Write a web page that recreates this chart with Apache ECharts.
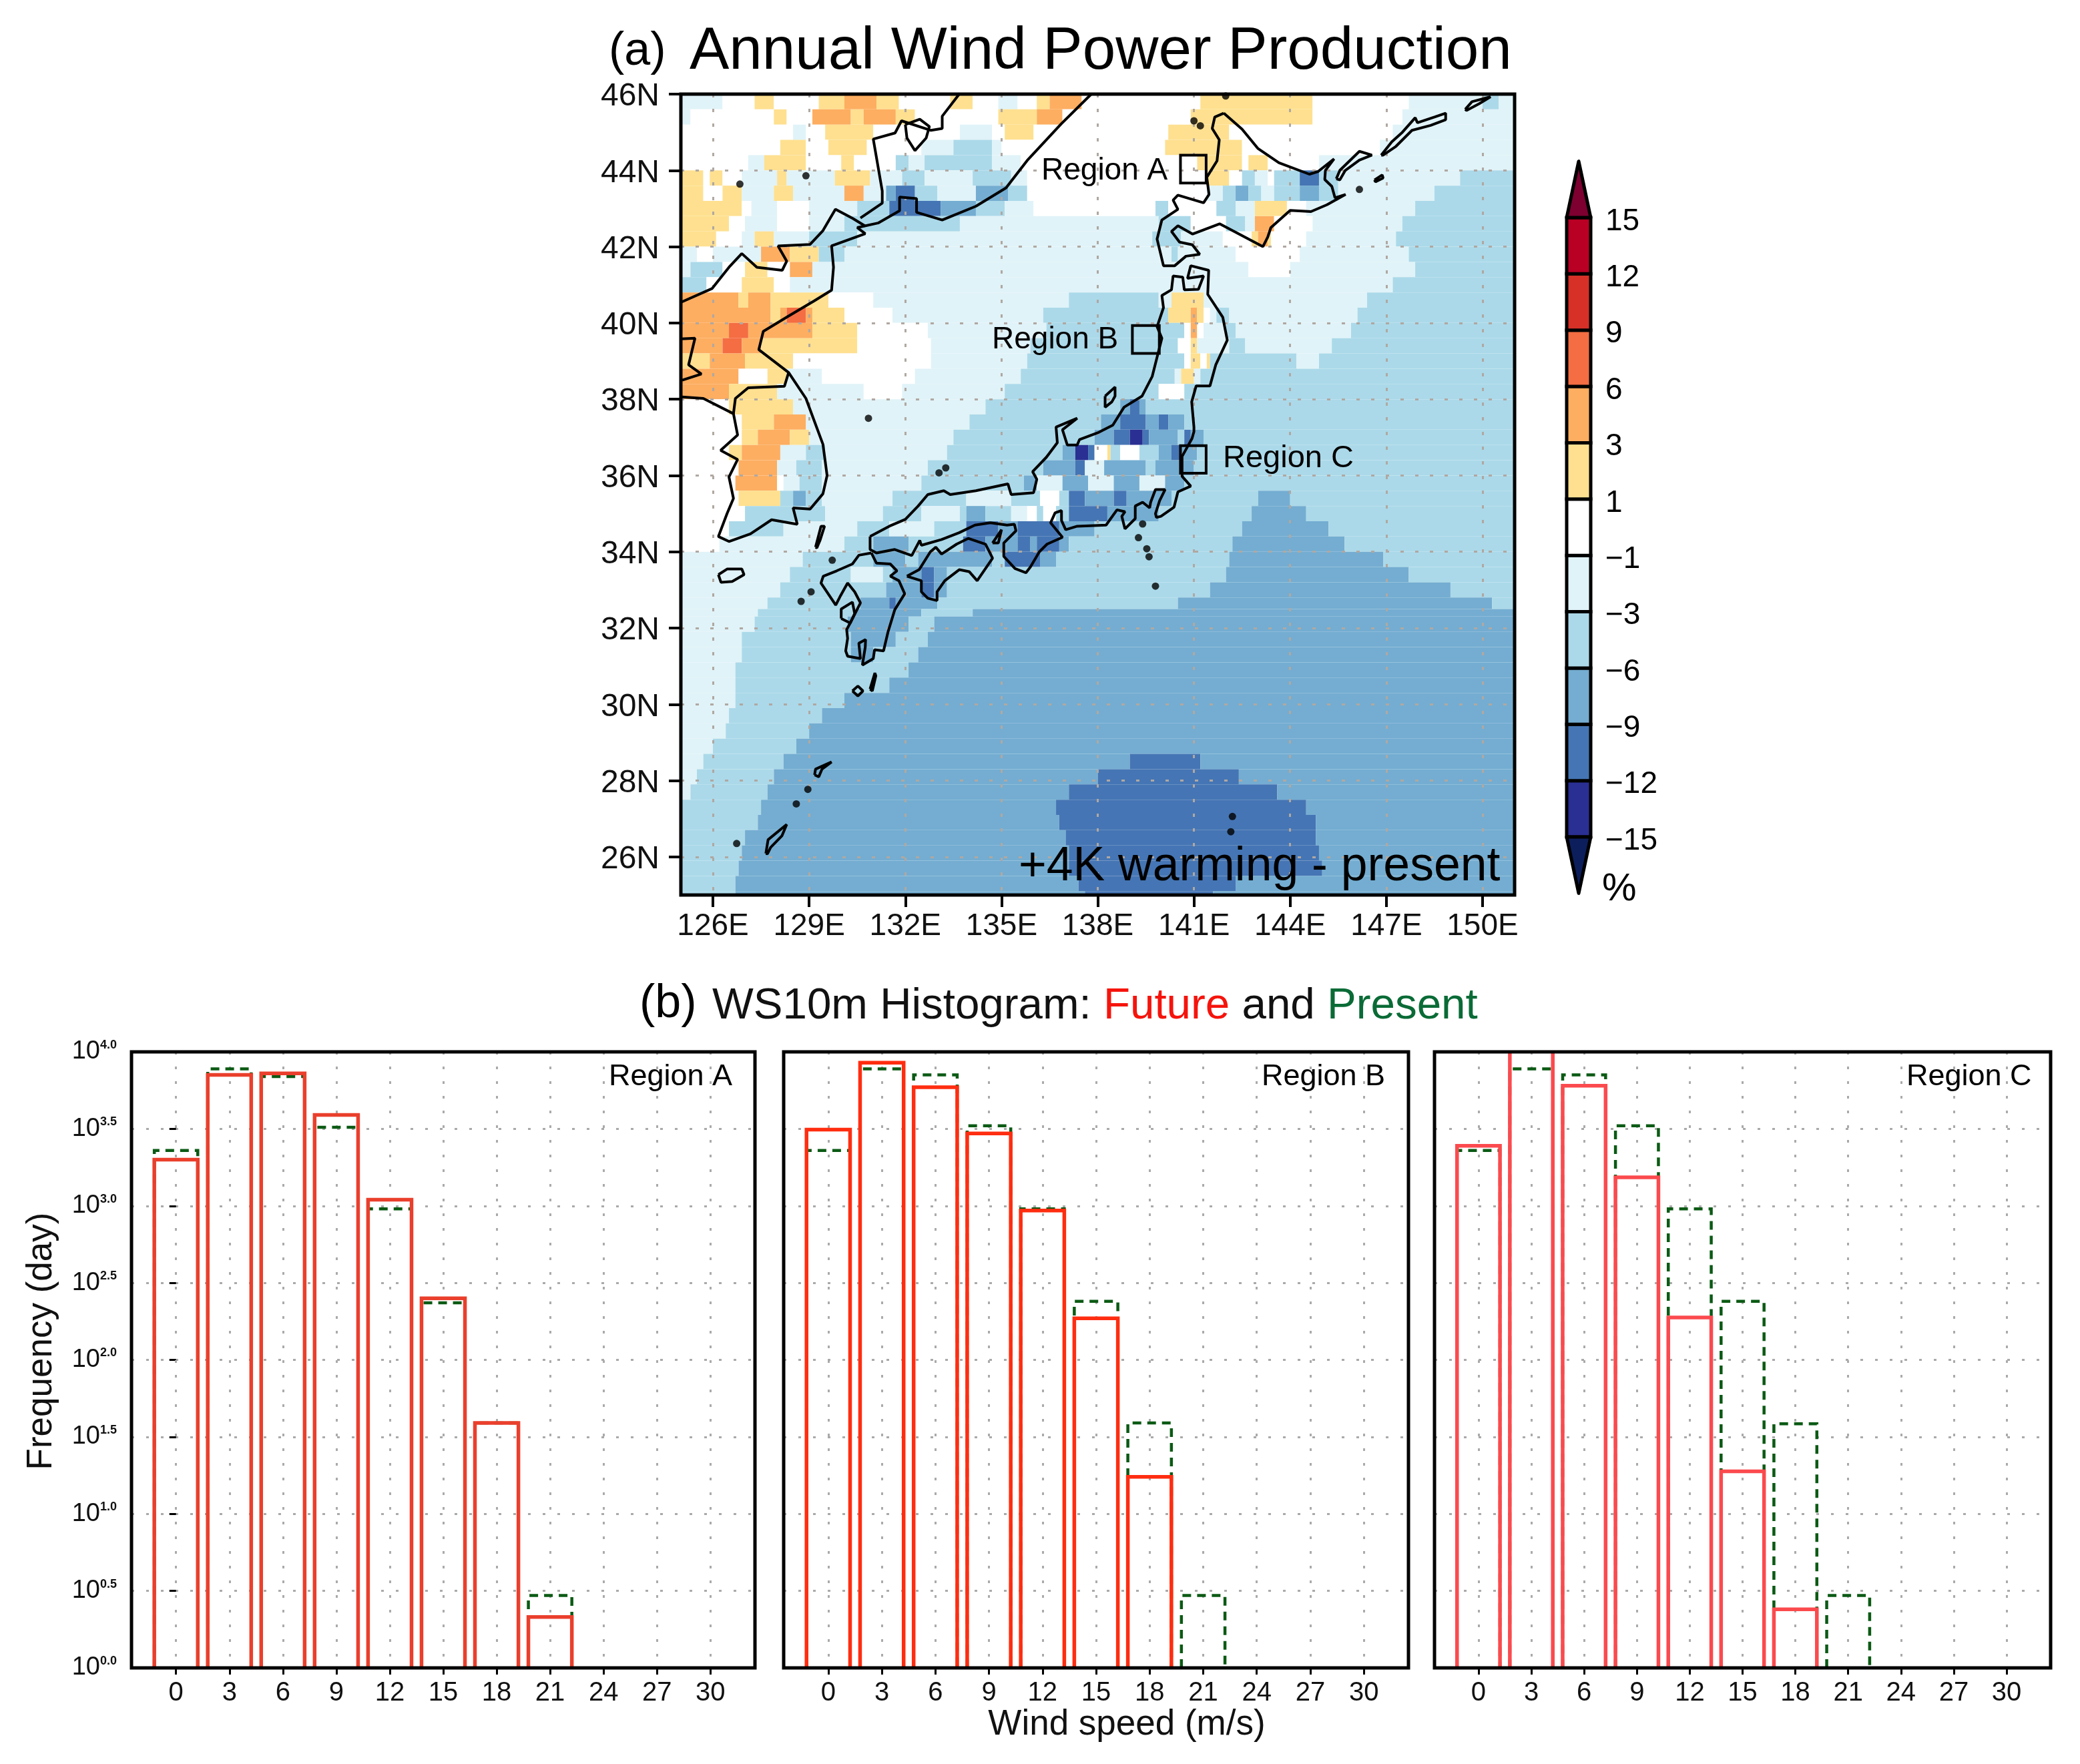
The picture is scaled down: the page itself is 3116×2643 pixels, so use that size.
<!DOCTYPE html>
<html><head><meta charset="utf-8">
<style>html,body{margin:0;padding:0;background:#fff}#c{width:3116px;height:2643px}</style>
<script src="https://cdn.jsdelivr.net/npm/echarts@6/dist/echarts.min.js"></script></head>
<body><div id="c"></div>
<script>
const FONT='"Liberation Sans",Arial,sans-serif';
const lonTicks=[126,129,132,135,138,141,144,147,150];
const latTicks=[26,28,30,32,34,36,38,40,42,44,46];
const binEdges=[-15,-12,-9,-6,-3,-1,1,3,6,9,12,15];
const binLabels=['\u221215','\u221212','\u22129','\u22126','\u22123','\u22121','1','3','6','9','12','15'];
const binColors=['#2a2f93','#4575b4','#74add1','#abd9e9','#e0f3f8','#ffffff','#fee090','#fdae61','#f46d43','#d73027','#b90024'];
const underColor='#0c1e5c', overColor='#7d0030';
// percent change represented by the class letters used in the rows below
const classValues={'.':0,a:2,b:4.5,c:7.5,d:-2,e:-4.5,f:-7.5,g:-10.5,h:-13.5};
// [top latitude, "class + eastern longitude of the run" ...]
const mapRows=[
[46,"d126.3 .127.3 a127.9 .129.3 a130.1 b131.1 a131.8 .133.4 a134.1 .134.9 d135.5 .136.1 a136.5 b137.5 .141.2 a144.7 .147.7 d150 e150.5 d151"],
[45.6,"d125.3 .127.9 a128.3 .129.1 b130.3 a130.7 b131.7 a132.3 .134.9 a136.1 b136.9 .140.9 a144.7 .147.5 d151"],
[45.2,".128.5 d128.9 .129.5 a131 .133.7 d134.7 .135.1 a136 .140.2 a142.1 .147.2 d151"],
[44.8,".128.1 a128.9 .129.6 a130.8 .132.5 d133.5 e134.7 d135 .140.1 a142.5 .146.8 d151"],
[44.4,".127.1 d127.6 a128.9 .130 a130.4 .131.7 e132.1 d132.6 e134.7 d135.6 .141.1 a142.5 .142.7 a143.3 .144.9 d151"],
[44,"a125.7 .125.9 a126.3 .126.9 d128 a128.3 d129.8 a130.9 d131.9 e132.6 d134.1 e135.3 d135.8 .141.4 a142.1 .142.5 e142.9 d143.3 .143.5 e144.3 g144.9 e145.5 d149.3 e151"],
[43.6,"a125.7 .126.3 a126.9 d127.9 a128.5 d130.1 b130.7 d131.4 f131.7 g132.3 e133 d134.2 f135.2 e135.8 .141.4 d141.9 e142.3 f142.7 e143.1 d143.5 e144.3 f144.9 e145.5 d148.5 e151"],
[43.2,"a126.9 .127.2 d128 .129 d130.5 e131.5 g133.1 f134.2 e135.1 d136 .139.8 e140.2 .141.7 e142.3 d142.9 a143.9 .144.5 d147.9 e151"],
[42.8,"a126.5 .127 d128 .129 d130.1 e133.7 d139.9 e140.9 .142 e142.6 d142.9 b143.5 .144.7 d147.5 e151"],
[42.4,"a126.1 .126.9 d127.3 a127.9 d129 e130.5 d139.7 e140.6 d141.9 .142.8 a143 b143.3 a143.4 .144.5 d147.3 e151"],
[42,"d125.5 .126 d127.5 b128.4 a129.3 e130.1 d140.3 e140.5 d142.3 .144.3 d147.7 e151"],
[41.6,"d125.3 e126.3 .127 a127.7 .128.4 b129.1 d142.7 .144 d147.9 e151"],
[41.2,"e125.8 .126.9 a127.9 .128.4 d147.2 e151"],
[40.8,"b126.8 a127.1 b127.8 a129.6 .131 d137.1 e139.9 d140.3 a141.3 d146.4 e151"],
[40.4,"b127.8 a128.1 b128.3 c128.9 b129.1 a130.1 .131.6 d136.3 e140.2 a140.9 b141.1 a141.3 .141.5 d141.7 e142.1 d146.1 e151"],
[40,"b126.5 c127.1 b129.1 a130.5 .132.7 d136.4 e140.7 .140.9 b141.1 .141.3 d142 e142.3 d145.9 e151"],
[39.6,"b126.3 c126.9 b127.5 a130.5 .132.8 d135.9 e140.5 .140.9 a141.1 d142.1 e142.6 d145.3 e151"],
[39.2,"a125.9 b127 a128.5 .132.8 d135.8 e140.7 .140.9 a141.2 .141.4 a141.5 e144.2 d144.9 e151"],
[38.8,"b126.8 .127.7 a128.3 d129.4 .132.3 d135.6 e140.4 d140.6 a141 d141.2 e151"],
[38.4,"b126.5 a128 d130.7 .131.9 d135.1 e139.9 .140.7 e151"],
[38,".126.5 a128.5 d134.5 e138.7 f139 g139.3 f139.5 e151"],
[37.6,".126.9 a127.9 b128.9 d134 e138.1 f138.7 g139.5 f139.9 g140.2 f140.7 e151"],
[37.2,".126.9 a127.4 b128.4 a129 d133.5 e137.9 f138.5 g139 h139.4 g139.6 f140.5 e140.7 g140.9 f141.3 e151"],
[36.8,".126.5 a126.9 b128.1 d128.9 e129.5 d133.3 e136.9 f137.3 h137.7 g137.9 .138.3 a138.4 e138.7 .139.3 e139.9 f140.3 g140.6 f141.1 e151"],
[36.4,".126.8 b128 d128.6 e129.4 d132.7 e136.3 f137.3 g137.6 d138.2 f139.5 e139.8 f141 e151"],
[36,".126.7 b128 .128.2 d128.7 e129.4 d132.5 e135.7 f136.1 d136.9 f137.7 d138.5 f139.3 d140.1 f140.7 e151"],
[35.6,".126.8 a128.1 e128.5 f128.9 e129.4 d131.6 e133.9 d135.3 e136.2 .136.8 e137.1 g137.6 f138.5 g138.9 f140.3 e143 f144 e151"],
[35.2,".127 e129.5 d131.3 e132.5 d133.7 e133.9 f134.5 e135.3 d135.8 .136.1 e136.3 .136.7 e137.1 g138.3 f139.9 e142.8 f144.5 e151"],
[34.8,".126.5 e128.2 d130.5 e131.5 d132.9 e133.9 g134.9 f135.5 g136.8 f137.9 e142.5 f145.2 e151"],
[34.4,".126.2 d130.1 e131 f132.1 e133.8 g134.5 f135.5 g135.9 f136.1 g136.8 f137.1 e142.2 f145.7 e151"],
[34,"d128.8 e131 f132 e132.4 f134.7 e135.1 g136.2 f136.7 e142.1 f146.9 e151"],
[33.6,"d128.4 e130.3 d131.3 e131.6 f132.5 g132.9 f133.3 e142 f147.7 e151"],
[33.2,"d128.1 e131.4 f132.5 g132.9 f133.3 e141.5 f149 e151"],
[32.8,"d127.7 e130.6 f131.5 g131.7 f133 e140.5 f150.3 e151"],
[32.5,"d127.4 e130.4 f132.5 e134.1 f151"],
[32.3,"d127.3 e130.2 f132.1 e132.9 f151"],
[31.9,"d126.9 e130.3 f131.7 e132.7 f151"],
[31.5,"d126.9 e130.3 f131 e132.4 f151"],
[31.1,"d126.7 e132.1 f151"],
[30.7,"d126.7 e131.5 f151"],
[30.3,"d126.7 e130.1 f151"],
[29.9,"d126.5 e129.4 f151"],
[29.5,"d126.4 e129 f151"],
[29.1,"d126 e128.6 f151"],
[28.7,"d125.7 e128.2 f139 g141.2 f151"],
[28.3,"d125.5 e127.9 f138 g142.4 f151"],
[27.9,"d125.3 e127.7 f137.1 g143.6 f151"],
[27.5,"e127.5 f136.7 g144.5 f151"],
[27.1,"e127.4 f136.8 g144.8 f151"],
[26.7,"e127 f137 g144.8 f151"],
[26.3,"e126.9 f137.1 g144.9 f151"],
[25.9,"e126.8 f137.1 g145 f151"],
[25.5,"e126.7 f137.4 g142.3 f151"],
[25.1,"e126.7 f137.6 g141.6 f151"],
[25,""]
];
// coast and border outlines, [lon,lat]
const honshu=[[130.9,34.4],[131.5,34.67],[132,34.85],[132.4,35.2],[132.7,35.5],[133.2,35.6],[133.4,35.5],[134.2,35.6],[135.2,35.78],[135.3,35.5],[136,35.55],[136.1,35.9],[135.97,36.1],[136.4,36.48],[136.74,36.86],[136.7,37.27],[137.36,37.5],[136.9,37.2],[137.05,36.8],[137.36,36.8],[137.43,36.94],[138,37.12],[138.47,37.32],[138.82,37.79],[139.38,38.08],[139.7,38.6],[140,39.6],[139.85,39.9],[140.05,40.4],[140,40.72],[140.3,40.87],[140.35,41.23],[140.65,41.2],[140.7,40.87],[141.14,40.88],[141.3,41.23],[140.8,41.17],[140.9,41.5],[141.46,41.38],[141.43,40.75],[141.9,40.15],[142.04,39.55],[141.68,38.9],[141.5,38.35],[141.07,38.35],[140.93,37.93],[141,37.27],[141,37.15],[140.94,36.97],[140.63,36.5],[140.63,35.98],[140.9,35.72],[140.5,35.57],[140.38,35.17],[139.97,34.93],[139.83,34.9],[139.8,35],[139.93,35.34],[140.1,35.63],[139.8,35.63],[139.65,35.3],[139.62,35.15],[139.4,35.3],[139.17,35.2],[139.17,34.87],[138.85,34.6],[138.75,34.93],[138.85,35.05],[138.6,35.1],[138.26,34.7],[137.36,34.67],[137,34.58],[136.87,34.82],[136.87,35.08],[136.67,35.02],[136.53,34.76],[136.9,34.38],[136.42,34.2],[136.18,34],[135.9,33.6],[135.76,33.45],[135.42,33.56],[135.07,33.88],[135.07,34.23],[135.45,34.55],[135.4,34.72],[135.17,34.7],[134.65,34.76],[134.17,34.7],[133.68,34.5],[133.13,34.32],[132.5,34.17],[132.45,34.3],[132.2,33.9],[131.67,34.06],[131.1,33.97],[130.9,34.06],[130.9,34.4]];
const hokkaido=[[141.93,45.5],[141.65,45.4],[141.57,45.1],[141.79,44.8],[141.72,44.25],[141.4,43.82],[141.47,43.37],[141.3,43.15],[140.5,43.35],[140.35,43.22],[140.5,42.98],[140,42.7],[139.85,42.2],[140.05,41.5],[140.4,41.5],[140.75,41.75],[141.18,41.8],[140.95,42.05],[140.55,42.12],[140.3,42.4],[140.5,42.55],[140.96,42.33],[141.8,42.6],[143.15,42],[143.3,42.25],[143.4,42.5],[144,42.95],[144.65,42.92],[145.15,43.1],[145.73,43.37],[145.4,43.28],[145.3,43.58],[145.08,43.76],[145.1,44],[145.37,44.3],[144.87,43.97],[144.6,43.9],[143.65,44.2],[143,44.57],[142.5,45.08],[141.93,45.5]];
const kyushu=[[130.94,33.97],[130.55,33.91],[130.35,33.68],[129.86,33.5],[129.44,33.36],[129.37,33.18],[129.83,32.6],[129.98,32.85],[130.2,33.18],[130.42,32.95],[130.6,32.66],[130.28,32.13],[130.17,31.96],[130.2,31.73],[130.14,31.4],[130.2,31.26],[130.6,31.2],[130.55,31.6],[130.76,31.7],[130.75,31.5],[130.66,31.03],[131,31.2],[131.04,31.43],[131.32,31.4],[131.46,31.9],[131.67,32.48],[131.98,32.9],[131.8,33.24],[131.53,33.36],[131.74,33.5],[131.53,33.68],[131.1,33.7],[130.94,33.97]];
const shikoku=[[132.05,33.36],[132.43,33.53],[132.78,34],[132.95,34.12],[133.13,33.94],[133.6,34.2],[133.96,34.35],[134.5,34.2],[134.62,34],[134.72,33.83],[134.24,33.24],[133.99,33.48],[133.68,33.53],[133.23,33.24],[132.99,32.95],[132.99,32.72],[132.7,32.78],[132.5,32.95],[132.5,33.24],[132.05,33.36]];
const koreaRussia=[[137.8,46],[136.86,45.22],[135.8,44.26],[135.14,43.54],[134.2,43.06],[133.15,42.7],[132.35,42.9],[132.35,43.26],[131.82,43.3],[131.82,42.94],[131.15,42.62],[130.5,42.5],[130.75,42.34],[129.7,42.02],[129.76,41.46],[129.7,40.86],[129.16,40.58],[128.36,40.18],[127.57,39.78],[127.43,39.3],[128.36,38.7],[128.9,38.02],[129.43,36.82],[129.56,36],[129.43,35.52],[129.03,35.12],[128.5,35.15],[128.63,34.72],[127.83,34.84],[127.17,34.47],[126.5,34.27],[126.17,34.4],[126.44,35],[126.64,35.4],[126.5,35.96],[126.77,36.42],[126.24,36.66],[126.77,37.06],[126.64,37.62],[125.7,38.02],[125.04,38.06]];
const chinaBorder=[[125,40.54],[125.97,40.9],[126.5,41.46],[126.9,41.82],[127.37,41.46],[128.16,41.38],[128.3,41.62],[128.03,42.02],[129.03,42.06],[129.43,42.42],[129.82,42.98],[130.36,42.74],[130.75,42.54]];
const russiaBorder=[[133.68,46],[133.15,45.42],[133.15,45.1],[132.8,45.05],[131.88,45.3],[131.68,44.98],[131,44.82],[131.28,43.46],[131.28,43.14],[130.6,42.75]];
const khanka=[[132,45.2],[132.45,45.34],[132.75,45.15],[132.65,44.85],[132.3,44.52],[132.05,44.85],[132,45.2]];
const dmz=[[128.36,38.7],[128.23,38.34],[127.1,38.3],[126.7,38.02],[126.64,37.62]];
const westKorea=[[125,39.58],[125.44,39.6],[125.24,38.9],[125.64,38.66],[125.04,38.5]];
const sado=[[138.23,38.08],[138.54,38.32],[138.54,38.08],[138.44,37.93],[138.23,37.79],[138.23,38.08]];
const awaji=[[134.72,34.23],[135,34.58],[134.9,34.23],[134.72,34.23]];
const tsushima=[[129.2,34.12],[129.37,34.67],[129.48,34.67],[129.34,34.3],[129.24,34.1],[129.2,34.12]];
const jeju=[[126.17,33.4],[126.45,33.55],[126.9,33.55],[126.97,33.4],[126.6,33.22],[126.25,33.2],[126.17,33.4]];
const amakusa=[[130,32.25],[130,32.5],[130.35,32.68],[130.42,32.38],[130.28,32.13],[130,32.25]];
const kunashiri=[[145.44,43.78],[145.55,44],[146.16,44.5],[146.55,44.4],[146.16,44.27],[145.72,44],[145.55,43.75],[145.44,43.78]];
const iturup=[[146.84,44.4],[147.17,44.75],[147.5,45],[147.9,45.38],[147.97,45.25],[148.5,45.4],[148.85,45.5],[148.85,45.33],[148.38,45.18],[147.8,45.05],[147.3,44.63],[146.9,44.4],[146.84,44.4]];
const urup=[[149.46,45.6],[149.67,45.8],[150.25,45.93],[149.9,45.75],[149.5,45.57],[149.46,45.6]];
const shikotan=[[146.63,43.75],[146.87,43.88],[146.9,43.8],[146.66,43.7],[146.63,43.75]];
const tanegashima=[[130.9,30.4],[131.05,30.82],[131.08,30.75],[130.97,30.35],[130.9,30.4]];
const yakushima=[[130.35,30.35],[130.52,30.48],[130.68,30.35],[130.52,30.22],[130.35,30.35]];
const amami=[[129.17,28.15],[129.2,28.3],[129.7,28.49],[129.4,28.3],[129.3,28.1],[129.17,28.15]];
const okinawa=[[127.65,26.09],[127.72,26.45],[128.3,26.85],[128.15,26.55],[127.8,26.25],[127.7,26.08],[127.65,26.09]];
const outlines=[honshu,hokkaido,kyushu,shikoku,koreaRussia,chinaBorder,russiaBorder,khanka,dmz,westKorea,sado,awaji,tsushima,jeju,amakusa,kunashiri,iturup,urup,shikotan,tanegashima,yakushima,amami,okinawa];
const islandDots=[[130.85,37.5],[133.05,36.07],[133.26,36.2],[129.72,33.78],[129.06,32.95],[128.75,32.7],[128.96,27.77],[128.6,27.39],[126.74,26.35],[139.4,34.73],[139.27,34.37],[139.53,34.08],[139.6,33.87],[139.8,33.1],[142.2,27.06],[142.15,26.66],[146.16,43.5],[141,45.3],[141.2,45.17],[128.9,43.86],[126.84,43.64],[141.99,45.95]];
const regionBoxes=[[140.58,141.38,43.67,44.4],[139.08,139.92,39.2,39.93],[140.58,141.38,36.06,36.78]];
// histograms: log10 of frequency at each wind-speed bin
const speedBins=[0,3,6,9,12,15,18,21];
const speedTicks=[0,3,6,9,12,15,18,21,24,27,30];
const futureA=[3.3,3.85,3.86,3.59,3.04,2.4,1.59,0.33];
const presentA=[3.36,3.89,3.84,3.51,2.98,2.37,1.59,0.47];
const futureB=[3.495,3.93,3.77,3.47,2.97,2.27,1.24,null];
const presentB=[3.36,3.89,3.85,3.52,2.98,2.38,1.59,0.47];
const futureC=[3.39,4.2,3.78,3.185,2.275,1.276,0.38,null];
const presentC=[3.36,3.89,3.85,3.52,2.98,2.38,1.585,0.47];
const binHalfWidth=1.22;

const valueColor=v=>{for(let i=0;i<binColors.length;i++){if(v<binEdges[i+1])return binColors[i];}return overColor;};
const cells=[];
mapRows.forEach((row,i)=>{
  if(!row[1])return;
  const top=row[0],bot=mapRows[i+1][0];
  let west=125;
  row[1].split(' ').forEach(t=>{
    const east=parseFloat(t.slice(1));
    cells.push([west,east,top,bot,classValues[t[0]]]);
    west=east;
  });
});
const pairs=(xs,ys)=>xs.map((x,i)=>ys[i]==null?null:[x,ys[i]]).filter(Boolean);
const dotted={color:'#b0a8a2',width:3,type:[5,17]};
const panels=[
 {name:'Region A',left:197,width:934,future:futureA,present:presentA,red:'#ea3f2c'},
 {name:'Region B',left:1174,width:936,future:futureB,present:presentB,red:'#ff2d10'},
 {name:'Region C',left:2149,width:923,future:futureC,present:presentC,red:'#fb4a4e'}
];
const grid=[
 {left:1020,top:141,width:1249,height:1200,show:true,borderColor:'#000',borderWidth:5,backgroundColor:'transparent',z:10},
 {left:2347,top:326,width:36,height:928,show:false}
];
const xAxis=[
 {gridIndex:0,type:'value',min:125,max:151,z:5,axisLine:{show:false},
  axisTick:{show:true,length:18,lineStyle:{width:4,color:'#000'},customValues:lonTicks},
  axisLabel:{show:true,margin:24,color:'#111',fontFamily:FONT,fontSize:46,customValues:lonTicks,formatter:v=>v+'E'},
  splitLine:{show:true,lineStyle:dotted}},
 {gridIndex:1,type:'value',min:0,max:1,show:false}
];
const yAxis=[
 {gridIndex:0,type:'value',min:25,max:46,z:5,axisLine:{show:false},
  axisTick:{show:true,length:18,lineStyle:{width:4,color:'#000'},customValues:latTicks},
  axisLabel:{show:true,margin:32,customValues:latTicks,formatter:v=>'{a|'+v+'N}',
    rich:{a:{color:'#111',fontFamily:FONT,fontSize:48,padding:[8,0,0,0]}}},
  splitLine:{show:true,lineStyle:dotted}},
 {gridIndex:1,type:'value',min:0,max:11,position:'right',interval:1,
  axisLine:{show:false},axisTick:{show:true,length:6,lineStyle:{width:4,color:'#000'}},
  axisLabel:{show:true,margin:22,align:'left',formatter:v=>'{a|'+binLabels[v]+'}',
    rich:{a:{color:'#000',fontFamily:FONT,fontSize:46,padding:[12,0,0,0]}}},
  splitLine:{show:false}}
];
const series=[
 {type:'custom',xAxisIndex:0,yAxisIndex:0,z:2,clip:true,silent:true,data:cells,encode:{x:[0,1],y:[2,3]},
  renderItem:(p,api)=>{
    const a=api.coord([api.value(0),api.value(2)]),b=api.coord([api.value(1),api.value(3)]);
    return {type:'rect',shape:{x:a[0],y:a[1],width:b[0]-a[0],height:b[1]-a[1]},style:{fill:valueColor(api.value(4)),stroke:null}};
  }},
 {type:'custom',xAxisIndex:0,yAxisIndex:0,z:7,silent:true,data:regionBoxes,encode:{x:[0,1],y:[2,3]},
  renderItem:(p,api)=>{
    const a=api.coord([api.value(0),api.value(3)]),b=api.coord([api.value(1),api.value(2)]);
    return {type:'rect',shape:{x:a[0],y:a[1],width:b[0]-a[0],height:b[1]-a[1]},style:{fill:'none',stroke:'#000',lineWidth:4}};
  }},
 {type:'scatter',xAxisIndex:0,yAxisIndex:0,z:6,silent:true,symbol:'circle',symbolSize:11,itemStyle:{color:'#000'},data:islandDots},
 {type:'custom',xAxisIndex:1,yAxisIndex:1,z:3,clip:false,silent:true,
  data:binColors.map((c,i)=>[i]),encode:{y:0},
  renderItem:(p,api)=>{
    const i=api.value(0);
    const a=api.coord([0,i+1]),b=api.coord([1,i]);
    return {type:'rect',shape:{x:a[0],y:a[1],width:b[0]-a[0],height:b[1]-a[1]},style:{fill:binColors[i],stroke:'#000',lineWidth:5}};
  }},
 {type:'custom',xAxisIndex:1,yAxisIndex:1,z:3,clip:false,silent:true,
  data:[[0,-1],[11,12]],encode:{y:[0,1]},
  renderItem:(p,api)=>{
    const base=api.value(0), tip=api.value(1);
    return {type:'polygon',shape:{points:[api.coord([0,base]),api.coord([1,base]),api.coord([0.5,tip])]},
      style:{fill:base===0?underColor:overColor,stroke:'#000',lineWidth:5,lineJoin:'round'}};
  }}
];
outlines.forEach(o=>series.push({type:'line',xAxisIndex:0,yAxisIndex:0,z:6,silent:true,showSymbol:false,symbol:'none',
  lineStyle:{color:'#000',width:4},data:o}));
// open-bottomed histogram outline for one wind-speed bin
const binOutline=(stroke,width,dash)=>(p,api)=>{
  const x=api.value(0),v=api.value(1);
  return {type:'polyline',shape:{points:[api.coord([x-binHalfWidth,0]),api.coord([x-binHalfWidth,v]),api.coord([x+binHalfWidth,v]),api.coord([x+binHalfWidth,0])]},
    style:{fill:'none',stroke,lineWidth:width,lineDash:dash,lineJoin:'miter'}};
};
panels.forEach((pn,k)=>{
  const gi=k+2;
  grid.push({left:pn.left,top:1576,width:pn.width,height:923,show:true,borderColor:'#000',borderWidth:5,backgroundColor:'transparent',z:10});
  xAxis.push({gridIndex:gi,type:'value',min:-2.5,max:32.5,z:1,
    name:k===1?'Wind speed (m/s)':'',nameLocation:'middle',nameGap:58,
    nameTextStyle:{fontFamily:FONT,fontSize:53,color:'#111',padding:[0,0,0,92]},
    axisLine:{show:false},
    axisTick:{show:true,length:10,lineStyle:{width:3,color:'#000'},customValues:speedTicks},
    axisLabel:{show:true,margin:18,color:'#111',fontFamily:FONT,fontSize:40,customValues:speedTicks},
    splitLine:{show:true,lineStyle:{color:'#aaa',width:3,type:[4,18]}}});
  yAxis.push({gridIndex:gi,type:'value',min:0,max:4,interval:0.5,
    name:k===0?'Frequency (day)':'',nameLocation:'middle',nameRotate:90,nameGap:108,
    nameTextStyle:{fontFamily:FONT,fontSize:53,color:'#111',padding:[0,0,0,56]},
    axisLine:{show:false},
    axisTick:{show:k===0,length:10,lineStyle:{width:3,color:'#000'}},
    axisLabel:{show:k===0,margin:22,fontFamily:FONT,
      formatter:v=>'{b|10}{s|'+v.toFixed(1)+'}',
      rich:{b:{fontFamily:FONT,fontSize:38,color:'#111'},s:{fontFamily:FONT,fontSize:18,fontWeight:'bold',color:'#111',verticalAlign:'top',padding:[0,0,10,0]}}},
    splitLine:{show:true,lineStyle:{color:'#aaa',width:3,type:[4,18]}}});
  series.push({name:'Present '+pn.name,type:'custom',xAxisIndex:gi,yAxisIndex:gi,z:3,clip:true,silent:true,encode:{x:0,y:1},
    renderItem:binOutline('#0b5a14',4.5,[13,9]),data:pairs(speedBins,pn.present)});
  series.push({name:'Future '+pn.name,type:'custom',xAxisIndex:gi,yAxisIndex:gi,z:4,clip:true,silent:true,encode:{x:0,y:1},
    renderItem:binOutline(pn.red,5.5,null),data:pairs(speedBins,pn.future)});
});
const txt=(text,x,y,size,opt)=>Object.assign({type:'text',x,y,z:100,silent:true,
  style:{text,fontFamily:FONT,fontSize:size,fill:'#000',textVerticalAlign:'middle',textAlign:'left'}},opt||{});
const graphic=[
 txt('(a)',912,78,70),
 txt('Annual Wind Power Production',1033,78,89),
 txt('+4K warming - present',1526,1299,71.5),
 txt('Region A',1560,256,46),
 txt('Region B',1486,509,46),
 txt('Region C',1832,687,47),
 txt('%',2400,1333,58),
 txt('(b)',958,1505,70),
 {type:'text',x:1067,y:1508,z:100,silent:true,style:{text:'{k|WS10m Histogram: }{r|Future}{k| and }{g|Present}',textVerticalAlign:'middle',
   rich:{k:{fontFamily:FONT,fontSize:65.5,fill:'#111'},r:{fontFamily:FONT,fontSize:65.5,fill:'#f5140c'},g:{fontFamily:FONT,fontSize:65.5,fill:'#0a6b36'}}}},
 txt('Region A',912,1614,45),
 txt('Region B',1890,1614,45),
 txt('Region C',2856,1614,45)
];
const chart=echarts.init(document.getElementById('c'),null,{renderer:'canvas',width:3116,height:2643});
chart.setOption({animation:false,backgroundColor:'#fff',textStyle:{fontFamily:FONT},grid,xAxis,yAxis,series,graphic});
</script></body></html>
